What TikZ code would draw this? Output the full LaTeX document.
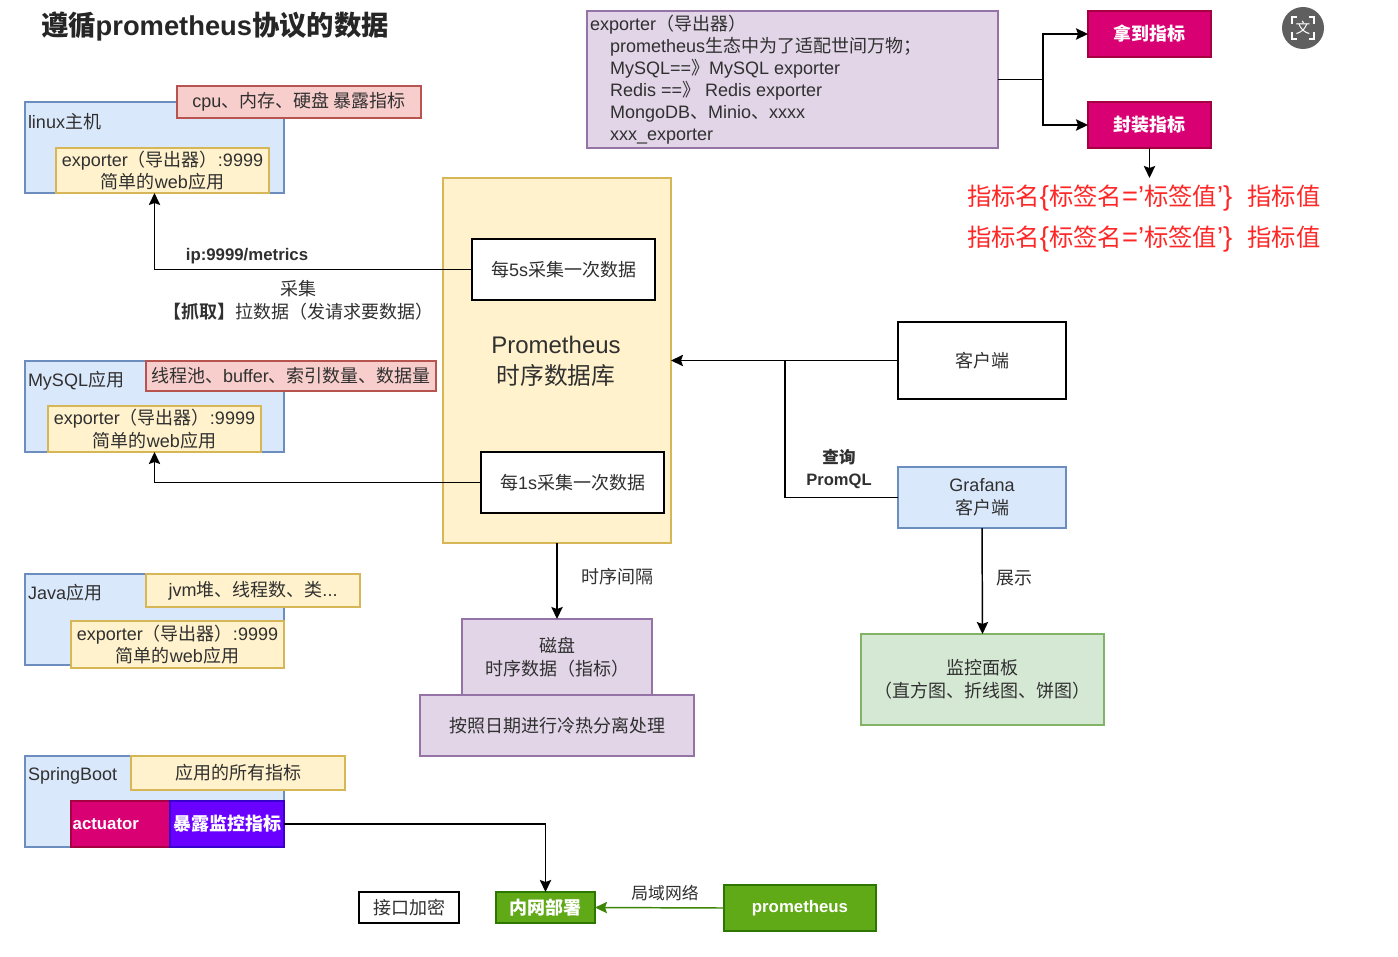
\documentclass[tikz,border=0pt]{standalone}
\usepackage{fontspec}
\setmainfont{Liberation Sans}
\newfontfamily\cjk{Noto Sans CJK SC}
\newfontfamily\cjkb{Noto Sans CJK SC Bold}
\newfontfamily\cjks[Scale=0.89]{Noto Sans CJK SC}
\newcommand{\zh}[1]{{\cjk #1}}
\newcommand{\zb}[1]{{\cjkb #1}}
\newcommand{\zs}[1]{{\cjks #1}}
\newcommand{\zbl}[1]{{\fontsize{13.5}{17}\selectfont\cjkb #1}}
\usetikzlibrary{arrows.meta}
\definecolor{bluef}{HTML}{DAE8FC}\definecolor{blued}{HTML}{6C8EBF}
\definecolor{yelf}{HTML}{FFF2CC}\definecolor{yeld}{HTML}{D6B656}
\definecolor{redf}{HTML}{F8CECC}\definecolor{redd}{HTML}{B85450}
\definecolor{purf}{HTML}{E1D5E7}\definecolor{purd}{HTML}{9673A6}
\definecolor{grnf}{HTML}{D5E8D4}\definecolor{grnd}{HTML}{82B366}
\definecolor{pinkf}{HTML}{D80073}\definecolor{pinkd}{HTML}{A50040}
\definecolor{vio}{HTML}{6A00FF}\definecolor{viod}{HTML}{3700CC}
\definecolor{lime}{HTML}{60A917}\definecolor{limed}{HTML}{2D7600}
\definecolor{txt}{HTML}{303030}
\definecolor{iconc}{HTML}{5F5F5F}
\tikzset{
  x=0.75pt,y=-0.75pt,
  every node/.style={inner sep=0pt,outer sep=0pt,align=center,text=txt,font=\fontsize{13.5}{17}\selectfont},
  box/.style={draw,line width=0.9pt,rectangle},
  bluebox/.style={box,fill=bluef,draw=blued},
  yelbox/.style={box,fill=yelf,draw=yeld},
  redbox/.style={box,fill=redf,draw=redd},
  purbox/.style={box,fill=purf,draw=purd},
  grnbox/.style={box,fill=grnf,draw=grnd},
  pinkbox/.style={box,fill=pinkf,draw=pinkd,text=white,font=\fontsize{12.6}{17}\bfseries\selectfont},
  viobox/.style={box,fill=vio,draw=viod,text=white,font=\fontsize{13.5}{17}\bfseries\selectfont},
  limebox/.style={box,fill=lime,draw=limed,text=white,font=\fontsize{12.6}{17}\bfseries\selectfont},
  whitebox/.style={box,fill=white,draw=black},
  conn/.style={draw=black,line width=1.1pt,-{Stealth[length=9pt,width=8.5pt,inset=1.5pt]}},
  greenconn/.style={draw=limed!70!lime,line width=1.1pt,-{Stealth[length=9pt,width=8.5pt,inset=1.5pt]}},
  plain/.style={draw=black,line width=1.1pt},
  lbl/.style={anchor=west},
  redtxt/.style={text=red!85!white,anchor=west,font=\fontsize{20.5}{24}\selectfont},
}
\newcommand{\B}[7]{\node[#6,minimum width={(#4-#2)*0.75pt},minimum height={(#5-#3)*0.75pt}] (#1) at ({(#2+#4)/2},{(#3+#5)/2}) {#7};}
\begin{document}
\begin{tikzpicture}
\useasboundingbox (0,0) rectangle (1398,956);
\fill[white] (0,0) rectangle (1398,956);
% title
\node[anchor=west,text=black!85,font=\fontsize{20.5}{24}\bfseries\selectfont] (title) at (41,27) {\zb{遵循}prometheus\zb{协议的数据}};
% linux
\B{linux}{25}{102}{284}{193}{bluebox}{}
\B{linuxexp}{56}{148}{269}{193}{yelbox}{exporter\zh{（导出器）}:9999\\\zh{简单的}web\zh{应用}}
\B{linuxred}{177}{86}{421}{118}{redbox}{cpu\zh{、内存、硬盘 暴露指标}}
\node[lbl] (linuxl) at (28,122) {linux\zh{主机}};
% mysql
\B{mysql}{25}{361}{284}{452}{bluebox}{}
\B{mysqlexp}{48}{406}{261}{452}{yelbox}{exporter\zh{（导出器）}:9999\\\zh{简单的}web\zh{应用}}
\B{mysqlred}{146}{361}{436}{391}{redbox}{\zh{线程池、}buffer\zh{、索引数量、数据量}}
\node[lbl] (mysqll) at (28,381) {MySQL\zh{应用}};
% java
\B{java}{25}{574}{284}{665}{bluebox}{}
\B{javaexp}{71}{621}{284}{668}{yelbox}{exporter\zh{（导出器）}:9999\\\zh{简单的}web\zh{应用}}
\B{javayel}{146}{574}{360}{607}{yelbox}{jvm\zh{堆、线程数、类}...}
\node[lbl] (javal) at (28,593) {Java\zh{应用}};
% springboot
\B{spring}{25}{756}{284}{847}{bluebox}{}
\B{springyel}{131}{756}{345}{790}{yelbox}{\zh{应用的所有指标}}
\B{actuator}{71}{801}{170}{847}{pinkbox}{actuator\hspace*{22pt}}
\B{expose}{170}{801}{284}{847}{viobox}{\zb{暴露监控指标}}
\node[lbl] (springl) at (28,776) {SpringBoot};
% prometheus
\B{prom}{443}{178}{671}{543}{yelbox}{}
\node[font=\fontsize{18}{23}\selectfont] (promt) at (556,361) {Prometheus\\\zs{\fontsize{20}{23}\selectfont 时序数据库}};
\B{five}{472}{239}{655}{300}{whitebox}{\zh{每}5s\zh{采集一次数据}}
\B{one}{481}{452}{664}{513}{whitebox}{\zh{每}1s\zh{采集一次数据}}
% exporter box
\B{expbox}{587}{11}{998}{148}{purbox}{}
\node[anchor=north west,align=left,font=\fontsize{13.5}{16.5}\selectfont] (expt) at (590,15) {exporter\zh{（导出器）}\\
\hspace*{15pt}prometheus\zh{生态中为了适配世间万物；}\\
\hspace*{15pt}MySQL==\zh{》}MySQL exporter\\
\hspace*{15pt}Redis ==\zh{》} Redis exporter\\
\hspace*{15pt}MongoDB\zh{、}Minio\zh{、}xxxx\\
\hspace*{15pt}xxx\_exporter};
\B{nadao}{1088}{11}{1211}{57}{pinkbox}{\zbl{拿到指标}}
\B{fengz}{1088}{102}{1211}{148}{pinkbox}{\zbl{封装指标}}
\node[redtxt] (red1) at (967,198) {\zs{指标名}\{\zs{标签名}='\zs{标签值}'\} \ \zs{指标值}};
\node[redtxt] (red2) at (967,239) {\zs{指标名}\{\zs{标签名}='\zs{标签值}'\} \ \zs{指标值}};
\coordinate (redtop) at (1149.5,178);
\coordinate (split) at (1043,79.5);
% right side
\B{client}{898}{322}{1066}{399}{whitebox}{\zh{客户端}}
\B{grafana}{898}{467}{1066}{528}{bluebox}{Grafana\\\zh{客户端}}
\B{panel}{861}{634}{1104}{725}{grnbox}{\zh{监控面板}\\\zh{（直方图、折线图、饼图）}}
\coordinate (merge) at (785,360.5);
% disk
\B{disk}{462}{619}{652}{695}{purbox}{\zh{磁盘}\\\zh{时序数据（指标）}}
\B{cold}{420}{695}{694}{756}{purbox}{\zh{按照日期进行冷热分离处理}}
% bottom
\B{encrypt}{359}{892}{459}{923}{whitebox}{\zh{接口加密}}
\B{intranet}{496}{892}{595}{923}{limebox}{\zbl{内网部署}}
\B{promg}{724}{885}{876}{931}{limebox}{prometheus}
% connectors
\draw[conn] (five.west) -| (linux.south);
\draw[conn] (one.west) -| (mysql.south);
\draw[conn] (prom.south) -- (disk.north);
\draw[conn] (client.west) -- (prom.east);
\draw[plain] (grafana.west) -| (merge);
\draw[conn] (grafana.south) -- (panel.north);
\draw[plain] (expbox.east) -- (split);
\draw[conn] (split) |- (nadao.west);
\draw[conn] (split) |- (fengz.west);
\draw[conn] (fengz.south) -- (redtop);
\draw[conn] (expose.east) -| (intranet.north);
\draw[greenconn] (promg.west) -- (intranet.east);
% labels
\node[font=\fontsize{12.6}{16}\bfseries\selectfont] (ipl) at (247,256) {ip:9999/metrics};
\node (cai) at (298,300) {\zh{采集}\\\zb{【抓取】}\zh{拉数据（发请求要数据）}};
\node (gap) at (617,577) {\zh{时序间隔}};
\node[font=\fontsize{12.4}{16.5}\bfseries\selectfont] (qry) at (839,469) {\zb{查询}\\PromQL};
\node (show) at (1014,578) {\zh{展示}};
\node (lan) at (665,893) {{\fontsize{12.6}{17}\selectfont\cjk 局域网络}};
% icon
\node[circle,fill=iconc,minimum size=31.5pt] (icon) at (1303,28) {};
\node[text=white,font=\fontsize{11}{12}\selectfont] (icont) at (icon) {\zh{文}};
\draw[white,line width=0.9pt] (1292,24) |- (1297,17) (1309,17) -| (1314,24) (1314,32) |- (1309,39) (1297,39) -| (1292,32);
\end{tikzpicture}
\end{document}
